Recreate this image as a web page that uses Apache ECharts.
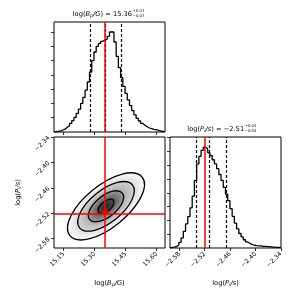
<!DOCTYPE html>
<html><head><meta charset="utf-8">
<script src="https://cdn.jsdelivr.net/npm/echarts@6/dist/echarts.min.js"></script>
<style>html,body{margin:0;padding:0;background:#fff}#c{width:303px;height:303px}</style>
</head><body><div id="c"></div>
<script>
// ---------- data ----------
const bRange = [15.103, 15.640];           // log(Bp/G) axis extent
const pRange = [-2.602, -2.340];           // log(Pi/s) axis extent
const bTicks = [15.15, 15.30, 15.45, 15.60];
const pTicks = [-2.58, -2.52, -2.46, -2.40, -2.34];
const bCountTicks = [1, 2, 3, 4, 5, 6, 7];
const pCountTicks = [1, 2, 3, 4, 5, 6, 7, 8];
const bCountMax = 7.7;
const pCountMax = 8.05;
// 50-bin histogram heights (arbitrary count units)
const bCounts = [0.02,0.05,0.07,0.14,0.20,0.33,0.44,0.60,0.80,1.02,
                 1.30,1.60,2.00,2.42,2.93,3.50,4.20,5.00,5.60,6.00,
                 6.20,6.35,6.45,6.50,6.70,7.00,7.00,6.30,5.30,4.50,
                 3.80,3.20,2.70,2.25,1.85,1.50,1.20,0.95,0.77,0.60,
                 0.47,0.37,0.28,0.23,0.19,0.16,0.12,0.07,0.05,0.02];
const pCounts = [0.05,0.07,0.12,0.22,0.41,0.73,1.21,1.75,2.28,2.91,
                 3.76,4.90,6.10,6.64,7.08,7.32,7.20,6.90,6.70,6.40,
                 6.10,5.75,5.33,4.90,4.40,3.90,3.43,2.85,2.30,1.80,
                 1.38,1.05,0.80,0.60,0.44,0.34,0.26,0.20,0.17,0.15,
                 0.15,0.12,0.12,0.10,0.10,0.07,0.07,0.05,0.05,0.03];
const bQuantiles = [15.2835, 15.353, 15.427];
const pQuantiles = [-2.539, -2.511, -2.469];
const truthB = 15.351;
const truthP = -2.517;
// contour ellipses (0.5, 1, 1.5, 2 sigma): centre, end of major semi-axis, end of minor semi-axis
const contourCenterB = [15.3546, 15.3546, 15.3546, 15.3546];
const contourCenterP = [-2.5037, -2.5037, -2.5037, -2.5037];
const contourMajorB  = [15.3904, 15.4335, 15.4824, 15.5293];
const contourMajorP  = [-2.4895, -2.4725, -2.4531, -2.4345];
const contourMinorB  = [15.3397, 15.3227, 15.3058, 15.2908];
const contourMinorP  = [-2.4945, -2.4843, -2.4744, -2.4652];
// density shading inside each contour: [colour at centre side, colour at the contour, inner stop]
const shadeInner = ['#262626', '#5a5a5a', '#acacac', '#dedede'];
const shadeOuter = ['#4a4a4a', '#9c9c9c', '#d6d6d6', '#fafafa'];
const shadeStop  = [0.0, 0.45, 0.62, 0.73];

// ---------- helpers ----------
const FONT = '"DejaVu Sans", sans-serif';
const TS = 6.7, SS = 4.7, SUP = 3.8;
const fmt = v => v.toFixed(2).replace('-', '\u2212');
function stepData(range, counts) {
  const n = counts.length, w = (range[1] - range[0]) / n;
  const pts = [[range[0], 0]];
  for (let i = 0; i < n; i++) pts.push([range[0] + i * w, counts[i]]);
  pts.push([range[1], counts[n - 1]]);
  pts.push([range[1], 0]);
  return pts;
}
const contourData = [];
for (let k = contourCenterB.length - 1; k >= 0; k--) {
  contourData.push([contourCenterB[k], contourCenterP[k], contourMajorB[k], contourMajorP[k],
                    contourMinorB[k], contourMinorP[k], k]);
}
const tickStyle = {show: true, length: 3, lineStyle: {color: '#000', width: 0.8}};
const labelStyle = {show: true, rotate: 45, fontSize: 6.2, color: '#000', fontFamily: FONT, margin: 5, formatter: fmt};
const richName = {
  n: {fontSize: TS, fontFamily: FONT, color: '#000'},
  i: {fontSize: TS, fontFamily: FONT, color: '#000', fontStyle: 'italic'},
  s: {fontSize: SS, fontFamily: FONT, color: '#000', fontStyle: 'italic', verticalAlign: 'bottom', padding: [3, 0, 0, 0]}
};
const mctx = document.createElement('canvas').getContext('2d');
function tw(txt, size, italic) { mctx.font = (italic ? 'italic ' : '') + size + 'px ' + FONT; return mctx.measureText(txt).width; }
function gridDef(l, t, w, h) {
  return {left: l, top: t, width: w, height: h, show: true, borderColor: '#000', borderWidth: 1,
          backgroundColor: 'transparent', containLabel: false, outerBoundsMode: 'none'};
}
function quantLines(q, truth) {
  const dashed = {type: [3, 2], color: '#000', width: 1.2};
  return [
    {xAxis: q[0], lineStyle: dashed}, {xAxis: q[1], lineStyle: dashed}, {xAxis: q[2], lineStyle: dashed},
    {xAxis: truth, lineStyle: {type: 'solid', color: '#ff0000', width: 1.5}}
  ];
}
function titleTexts(x, y, sym, sub, value, plus, minus) {
  const main = '{n|log(}{i|' + sym + '}{s|' + sub + '}{i|/' + (sym === 'B' ? 'G' : 's') + '}{n|) = ' + value + '}';
  const w = tw('log(', TS) + tw(sym, TS, true) + tw(sub, SS, true) + tw('/' + (sym === 'B' ? 'G' : 's'), TS, true) + tw(') = ' + value, TS);
  const sx = x + w + 0.6;
  return [
    {type: 'text', x: x, y: y, style: {text: main, rich: richName, align: 'left', verticalAlign: 'middle'}},
    {type: 'text', x: sx, y: y - 2.5, style: {text: plus, font: SUP + 'px ' + FONT, fill: '#000', align: 'left', verticalAlign: 'middle'}},
    {type: 'text', x: sx, y: y + 2.5, style: {text: minus, font: SUP + 'px ' + FONT, fill: '#000', align: 'left', verticalAlign: 'middle'}}
  ];
}

const chart = echarts.init(document.getElementById('c'), null, {renderer: 'canvas'});
chart.setOption({
  animation: false,
  backgroundColor: '#fff',
  grid: [gridDef(54, 22, 111, 110), gridDef(54, 137, 111, 111), gridDef(170, 137, 111, 111)],
  xAxis: [
    {gridIndex: 0, type: 'value', min: bRange[0], max: bRange[1], axisLine: {show: false},
     axisTick: Object.assign({customValues: bTicks}, tickStyle), axisLabel: {show: false}, splitLine: {show: false}},
    {gridIndex: 1, type: 'value', min: bRange[0], max: bRange[1], axisLine: {show: false},
     axisTick: Object.assign({customValues: bTicks}, tickStyle),
     axisLabel: Object.assign({customValues: bTicks}, labelStyle), splitLine: {show: false},
     name: '{n|log(}{i|B}{s|p}{i|/G}{n|)}', nameLocation: 'middle', nameGap: 31,
     nameTextStyle: {rich: richName}},
    {gridIndex: 2, type: 'value', min: pRange[0], max: pRange[1], axisLine: {show: false},
     axisTick: Object.assign({customValues: pTicks}, tickStyle),
     axisLabel: Object.assign({customValues: pTicks}, labelStyle), splitLine: {show: false},
     name: '{n|log(}{i|P}{s|i}{i|/s}{n|)}', nameLocation: 'middle', nameGap: 31,
     nameTextStyle: {rich: richName}}
  ],
  yAxis: [
    {gridIndex: 0, type: 'value', min: 0, max: bCountMax, axisLine: {show: false},
     axisTick: Object.assign({customValues: bCountTicks}, tickStyle), axisLabel: {show: false}, splitLine: {show: false}},
    {gridIndex: 1, type: 'value', min: pRange[0], max: pRange[1], axisLine: {show: false},
     axisTick: Object.assign({customValues: pTicks}, tickStyle),
     axisLabel: Object.assign({customValues: pTicks}, labelStyle), splitLine: {show: false},
     name: '{n|log(}{i|P}{s|i}{i|/s}{n|)}', nameLocation: 'middle', nameGap: 32, nameRotate: 90,
     nameTextStyle: {rich: richName}},
    {gridIndex: 2, type: 'value', min: 0, max: pCountMax, axisLine: {show: false},
     axisTick: Object.assign({customValues: pCountTicks}, tickStyle), axisLabel: {show: false}, splitLine: {show: false}}
  ],
  series: [
    {type: 'line', xAxisIndex: 0, yAxisIndex: 0, step: 'end', showSymbol: false, symbol: 'none',
     data: stepData(bRange, bCounts), lineStyle: {color: '#000', width: 1.3}, z: 3,
     markLine: {silent: true, symbol: 'none', label: {show: false}, animation: false, data: quantLines(bQuantiles, truthB)}},
    {type: 'line', xAxisIndex: 2, yAxisIndex: 2, step: 'end', showSymbol: false, symbol: 'none',
     data: stepData(pRange, pCounts), lineStyle: {color: '#000', width: 1.3}, z: 3,
     markLine: {silent: true, symbol: 'none', label: {show: false}, animation: false, data: quantLines(pQuantiles, truthP)}},
    {type: 'custom', xAxisIndex: 1, yAxisIndex: 1, z: 2, clip: true,
     encode: {x: [0, 2, 4], y: [1, 3, 5]},
     data: contourData,
     renderItem: function (params, api) {
       const c = api.coord([api.value(0), api.value(1)]);
       const m = api.coord([api.value(2), api.value(3)]);
       const n = api.coord([api.value(4), api.value(5)]);
       const rx = Math.hypot(m[0] - c[0], m[1] - c[1]);
       const ry = Math.hypot(n[0] - c[0], n[1] - c[1]);
       const rot = Math.atan2(c[1] - m[1], m[0] - c[0]);
       const k = api.value(6);
       const grad = new echarts.graphic.RadialGradient(0.5, 0.5, 0.5, [
         {offset: 0, color: shadeInner[0]},
         {offset: shadeStop[k], color: shadeInner[k]},
         {offset: 1, color: shadeOuter[k]}
       ]);
       return {type: 'group', children: [
         {type: 'circle', x: c[0], y: c[1], rotation: rot, scaleX: rx, scaleY: ry,
          shape: {cx: 0, cy: 0, r: 1}, style: {fill: grad}},
         {type: 'ellipse', x: c[0], y: c[1], rotation: rot,
          shape: {cx: 0, cy: 0, rx: rx, ry: ry},
          style: {fill: 'none', stroke: '#000', lineWidth: 1.3}}
       ]};
     }},
    {type: 'scatter', xAxisIndex: 1, yAxisIndex: 1, z: 5, symbolSize: 6,
     itemStyle: {color: '#ff0000'}, data: [[truthB, truthP]],
     markLine: {silent: true, symbol: 'none', label: {show: false}, animation: false,
       lineStyle: {type: 'solid', color: '#ff0000', width: 1.5},
       data: [{xAxis: truthB}, {yAxis: truthP}]}}
  ],
  graphic: [].concat(
    titleTexts(72.7, 14, 'B', 'p', '15.36', '+0.07', '\u22120.07'),
    titleTexts(187.3, 129, 'P', 'i', '\u22122.51', '+0.04', '\u22120.03')
  )
});
</script></body></html>
